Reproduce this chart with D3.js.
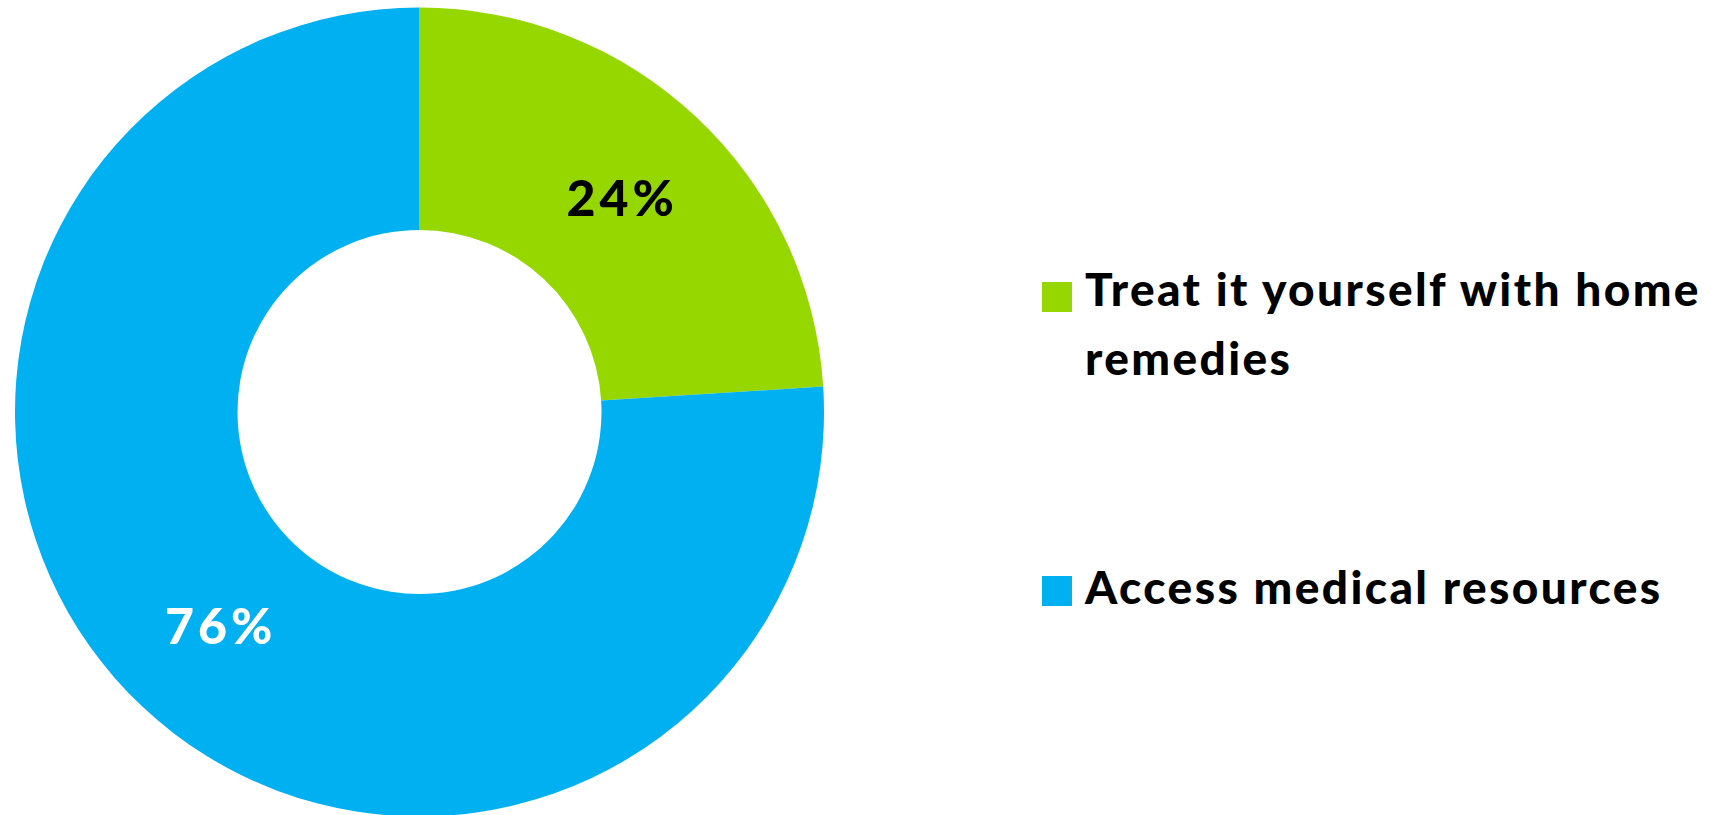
<!DOCTYPE html>
<html>
<head>
<meta charset="utf-8">
<script src="https://cdn.jsdelivr.net/npm/d3@7"></script>
<style>
  html, body { margin: 0; padding: 0; background: #ffffff; }
  svg { display: block; }
  text { font-family: Lato, "Noto Sans", sans-serif; }
</style>
</head>
<body>
<svg id="chart" width="1714" height="815"></svg>
<script>
// Survey answers: what people do when they get sick
const categories = ["Treat it yourself with home remedies", "Access medical resources"];
const shares = [24, 76];
const sliceColors = ["#97D700", "#00B0F0"];
const labelColors = ["#000000", "#ffffff"];

const width = 1714, height = 815;
const cx = 419.5, cy = 412;
const outerR = 404.5, innerR = 182;

const svg = d3.select("#chart");

const data = categories.map((c, i) => ({ name: c, value: shares[i], color: sliceColors[i], label: labelColors[i] }));

const pie = d3.pie().value(d => d.value).sort(null);
const arc = d3.arc().innerRadius(innerR).outerRadius(outerR);

const g = svg.append("g").attr("transform", `translate(${cx},${cy})`);
const arcs = pie(data);

g.selectAll("path.slice")
  .data(arcs)
  .join("path")
  .attr("class", "slice")
  .attr("d", arc)
  .attr("fill", d => d.data.color);

const pctSpacing = 4;
g.selectAll("text.pct")
  .data(arcs)
  .join("text")
  .attr("class", "pct")
  .attr("transform", d => {
    const [x, y] = arc.centroid(d);
    return `translate(${x + pctSpacing / 2},${y})`;
  })
  .attr("text-anchor", "middle")
  .attr("dy", "0.36em")
  .attr("font-size", 50)
  .attr("font-weight", 900)
  .attr("letter-spacing", pctSpacing)
  .attr("fill", d => d.data.label)
  .text(d => d.data.value + "%");

// Legend on the right, labels wrapped to the available width
const legendX = 1042, sw = 30, textX = 1085;
const swatchTop = [282, 576];
const baseline = [306, 604];
const lineH = 69;
const maxW = width - textX - 4;

const legend = svg.append("g").attr("class", "legend");
data.forEach((d, i) => {
  legend.append("rect")
    .attr("x", legendX)
    .attr("y", swatchTop[i])
    .attr("width", sw)
    .attr("height", sw)
    .attr("fill", d.color);

  const t = legend.append("text")
    .attr("x", textX)
    .attr("y", baseline[i])
    .attr("font-size", 46)
    .attr("font-weight", 900)
    .attr("letter-spacing", 2.4)
    .attr("fill", "#000");

  const words = d.name.split(" ");
  let line = [];
  let tspan = t.append("tspan").attr("x", textX);
  words.forEach(w => {
    line.push(w);
    tspan.text(line.join(" "));
    if (tspan.node().getComputedTextLength() > maxW && line.length > 1) {
      line.pop();
      tspan.text(line.join(" "));
      line = [w];
      tspan = t.append("tspan").attr("x", textX).attr("dy", lineH).text(w);
    }
  });
});
</script>
</body>
</html>
